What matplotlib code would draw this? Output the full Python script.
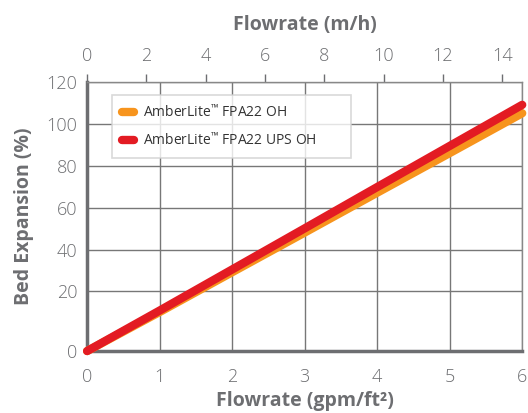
import matplotlib
matplotlib.use("Agg")
import matplotlib.pyplot as plt
import numpy as np

plt.rcParams['font.family'] = ['Open Sans', 'DejaVu Sans']
plt.rcParams['mathtext.fontset'] = 'custom'
plt.rcParams['mathtext.rm'] = 'Open Sans'

# flowrate in gpm/ft2, bed expansion in %
flowrate = [0, 1, 2, 3, 4, 5, 6]
fpa22_oh = [0, 13.1, 29.2, 48.1, 67.1, 86.0, 105.0]
fpa22_ups_oh = [0, 13.6, 30.5, 50.1, 69.8, 89.4, 109.0]

series_names = ["AmberLite$^{\u2122}$ FPA22 OH", "AmberLite$^{\u2122}$ FPA22 UPS OH"]
series_colors = ["#F7941D", "#E31B23"]

x_ticks = [0, 1, 2, 3, 4, 5, 6]
y_ticks = [0, 20, 40, 60, 80, 100, 120]
top_ticks = [0, 2, 4, 6, 8, 10, 12, 14]

GPM_TO_MH = 2.445

# the original has a stretched band between 0 and 20 on the y axis
STRETCH = 1.42


def y_fwd(v):
    v = np.asarray(v, dtype=float)
    return np.where(v >= 20, v, 20 - (20 - v) * STRETCH)


def y_inv(g):
    g = np.asarray(g, dtype=float)
    return np.where(g >= 20, g, 20 - (20 - g) / STRETCH)


grey = "#6d6e71"

fig = plt.figure(figsize=(5.28, 4.13), dpi=100)
ax = fig.add_axes([0.165, 0.15, 0.824, 0.652])
ax.set_yscale('function', functions=(y_fwd, y_inv))

for vals, name, col in zip([fpa22_oh, fpa22_ups_oh], series_names, series_colors):
    ax.plot(flowrate, vals, color=col, lw=6, solid_capstyle='round',
            label=name, zorder=3, clip_on=False)

ax.set_xlim(0, 6)
ax.set_ylim(0, 120)
ax.set_xticks(x_ticks)
ax.set_yticks(y_ticks)
ax.set_yticklabels([str(t) for t in y_ticks])
ax.minorticks_off()
ax.grid(True, color="#777777", lw=1)
ax.set_axisbelow(True)

for side in ['left', 'bottom']:
    ax.spines[side].set_linewidth(2.5)
    ax.spines[side].set_color(grey)
for side in ['top', 'right']:
    ax.spines[side].set_linewidth(1)
    ax.spines[side].set_color("#888888")

ax.tick_params(axis='both', length=0, labelsize=13, labelcolor=grey)
ax.tick_params(axis='y', pad=7)
ax.tick_params(axis='x', pad=12)
ax.set_xlabel("Flowrate (gpm/ft\u00b2)", fontsize=14, fontweight='bold',
              color=grey, labelpad=4)
ax.set_ylabel("Bed Expansion (%)", fontsize=14, fontweight='bold',
              color=grey, labelpad=9)

top = ax.secondary_xaxis('top', functions=(lambda x: x * GPM_TO_MH,
                                           lambda x: x / GPM_TO_MH))
top.set_xticks(top_ticks)
top.spines['top'].set_visible(False)
top.tick_params(length=6, width=1, color=grey, labelsize=13,
                labelcolor=grey, pad=6)
top.set_xlabel("Flowrate (m/h)", fontsize=14, fontweight='bold',
               color=grey, labelpad=12)

for lbl in ax.get_xticklabels() + ax.get_yticklabels() + top.get_xticklabels():
    lbl.set_fontweight('light')

leg = ax.legend(loc='upper left', bbox_to_anchor=(0.0575, 0.752, 0.549, 0.2),
                mode='expand', borderaxespad=0, fontsize=10,
                frameon=True, fancybox=False, edgecolor="#d0d0d0",
                handlelength=0.85, borderpad=0.7, labelspacing=0.8,
                handletextpad=0.65)
leg.get_frame().set_linewidth(1.2)
for txt in leg.get_texts():
    txt.set_color("#333333")

fig.savefig("out.png", dpi=100)
